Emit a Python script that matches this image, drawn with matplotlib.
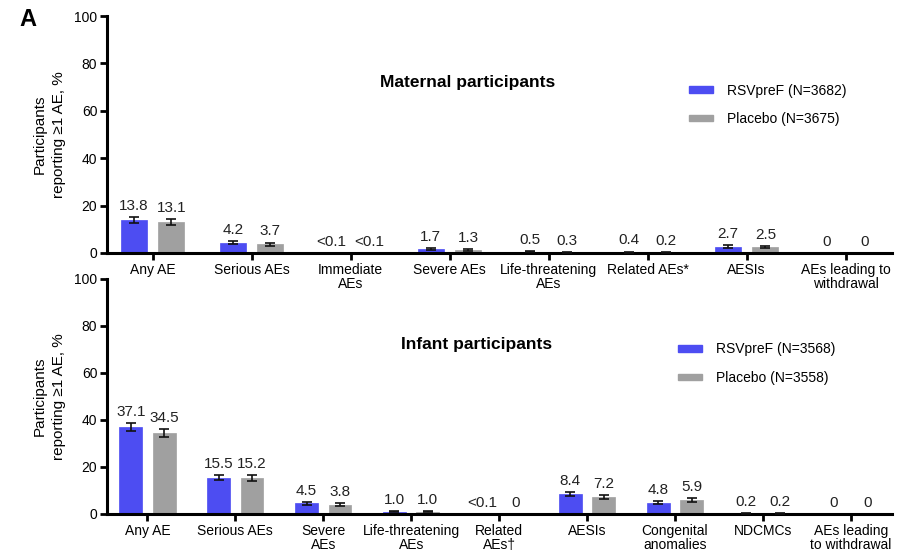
import matplotlib
matplotlib.use("Agg")
import matplotlib.pyplot as plt
import matplotlib.patches as patches
import numpy as np

plt.rcParams['font.family'] = ['Liberation Sans', 'DejaVu Sans']

# Maternal participants
mat_categories = ["Any AE", "Serious AEs", "Immediate\nAEs", "Severe AEs",
                  "Life-threatening\nAEs", "Related AEs*", "AESIs",
                  "AEs leading to\nwithdrawal"]
mat_rsv = [13.8, 4.2, 0.05, 1.7, 0.5, 0.4, 2.7, 0]
mat_pbo = [13.1, 3.7, 0.05, 1.3, 0.3, 0.2, 2.5, 0]
mat_rsv_lbl = ["13.8", "4.2", "<0.1", "1.7", "0.5", "0.4", "2.7", "0"]
mat_pbo_lbl = ["13.1", "3.7", "<0.1", "1.3", "0.3", "0.2", "2.5", "0"]
mat_rsv_lo = [12.7, 3.6, 0.0, 1.3, 0.3, 0.2, 2.2, 0]
mat_rsv_hi = [15.0, 4.9, 0.2, 2.2, 0.8, 0.6, 3.3, 0]
mat_pbo_lo = [12.0, 3.1, 0.0, 1.0, 0.1, 0.1, 2.0, 0]
mat_pbo_hi = [14.2, 4.4, 0.2, 1.8, 0.5, 0.4, 3.0, 0]

# Infant participants
inf_categories = ["Any AE", "Serious AEs", "Severe\nAEs", "Life-threatening\nAEs",
                  "Related\nAEs\u2020", "AESIs", "Congenital\nanomalies", "NDCMCs",
                  "AEs leading\nto withdrawal"]
inf_rsv = [37.1, 15.5, 4.5, 1.0, 0.05, 8.4, 4.8, 0.2, 0]
inf_pbo = [34.5, 15.2, 3.8, 1.0, 0, 7.2, 5.9, 0.2, 0]
inf_rsv_lbl = ["37.1", "15.5", "4.5", "1.0", "<0.1", "8.4", "4.8", "0.2", "0"]
inf_pbo_lbl = ["34.5", "15.2", "3.8", "1.0", "0", "7.2", "5.9", "0.2", "0"]
inf_rsv_lo = [35.5, 14.3, 3.8, 0.7, 0.0, 7.5, 4.1, 0.1, 0]
inf_rsv_hi = [38.7, 16.7, 5.2, 1.4, 0.2, 9.4, 5.6, 0.4, 0]
inf_pbo_lo = [32.9, 14.0, 3.2, 0.7, 0, 6.4, 5.2, 0.1, 0]
inf_pbo_hi = [36.1, 16.4, 4.5, 1.4, 0, 8.1, 6.8, 0.4, 0]

BLUE = '#4d4df2'
GREY = '#a0a0a0'


def draw_panel(ax, cats, rsv, pbo, rsv_lbl, pbo_lbl, rsv_lo, rsv_hi, pbo_lo, pbo_hi,
               title, title_x, leg_labels, leg_x, leg_y):
    x = np.arange(len(cats))
    w = 0.26
    off = 0.19
    for xs, vals, lbls, lo, hi, col in [(x - off, rsv, rsv_lbl, rsv_lo, rsv_hi, BLUE),
                                         (x + off, pbo, pbo_lbl, pbo_lo, pbo_hi, GREY)]:
        ax.bar(xs, vals, width=w, color=col, edgecolor=col, linewidth=0.5, zorder=2)
        for xi, v, lb, l, h in zip(xs, vals, lbls, lo, hi):
            top = v
            if h > 0 and v > 0.1:
                ax.errorbar(xi, v, yerr=[[v - l], [h - v]], fmt='none', ecolor='#111111',
                            elinewidth=1.2, capsize=3.5, capthick=1.2, zorder=3)
                top = h
            ax.annotate(lb, (xi, top), xytext=(0, 3), textcoords='offset points',
                        ha='center', va='bottom', fontsize=11, color='#222222')

    ax.set_xlim(-0.46, len(cats) - 1 + 0.47)
    ax.set_ylim(0, 100)
    ax.set_yticks([0, 20, 40, 60, 80, 100])
    ax.set_xticks(x)
    ax.set_xticklabels(cats, fontsize=10, linespacing=1.0)
    ax.tick_params(axis='y', labelsize=10, width=2, length=5, pad=2)
    ax.tick_params(axis='x', width=2, length=5, pad=2)
    ax.patch.set_visible(False)
    for s in ['top', 'right']:
        ax.spines[s].set_visible(False)
    for s in ['left', 'bottom']:
        ax.spines[s].set_linewidth(2.2)
    ax.set_ylabel("Participants\nreporting \u22651 AE, %", fontsize=11, labelpad=6,
                  linespacing=1.45)

    ax.text(title_x, 0.72, title, transform=ax.transAxes, ha='center', va='center',
            fontsize=12.5, fontweight='bold')

    handles = [patches.Patch(color=BLUE, label=leg_labels[0]),
               patches.Patch(color=GREY, label=leg_labels[1])]
    ax.legend(handles=handles, loc='center left', bbox_to_anchor=(leg_x, leg_y),
              frameon=False, fontsize=10, handlelength=1.7, handleheight=0.35,
              labelspacing=1.05, handletextpad=1.0)


fig = plt.figure(figsize=(9.02, 5.58), dpi=100)
ax1 = fig.add_axes([0.1186, 0.5466, 0.8704, 0.4247])
ax2 = fig.add_axes([0.1186, 0.0789, 0.8704, 0.4211])

draw_panel(ax1, mat_categories, mat_rsv, mat_pbo, mat_rsv_lbl, mat_pbo_lbl,
           mat_rsv_lo, mat_rsv_hi, mat_pbo_lo, mat_pbo_hi,
           "Maternal participants", 0.459,
           ["RSVpreF (N=3682)", "Placebo (N=3675)"], 0.726, 0.625)
draw_panel(ax2, inf_categories, inf_rsv, inf_pbo, inf_rsv_lbl, inf_pbo_lbl,
           inf_rsv_lo, inf_rsv_hi, inf_pbo_lo, inf_pbo_hi,
           "Infant participants", 0.471,
           ["RSVpreF (N=3568)", "Placebo (N=3558)"], 0.712, 0.64)

fig.text(0.022, 0.965, "A", fontsize=17, fontweight='bold', va='center')

fig.savefig("out.png", dpi=100)
